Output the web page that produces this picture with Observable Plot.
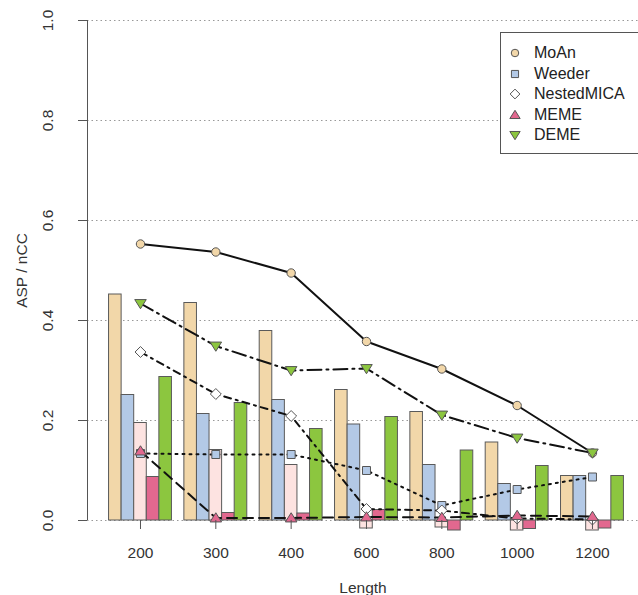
<!DOCTYPE html>
<html><head><meta charset="utf-8">
<script src="https://cdn.jsdelivr.net/npm/d3@7"></script>
<script src="https://cdn.jsdelivr.net/npm/@observablehq/plot@0.6"></script>
<style>
body{margin:0;background:#fff;font-family:"Liberation Sans",Arial,sans-serif;}
#wrap{position:relative;width:638px;height:595px;overflow:hidden;}
#legend{position:absolute;left:500px;top:32px;width:150px;height:122px;border:1px solid #555;background:#fff;box-sizing:border-box;}
#legend .row{position:absolute;left:0;height:20px;display:flex;align-items:center;font-size:16px;color:#222;}
#legend svg{margin-left:7px;margin-right:12px;}
</style></head><body><div id="wrap"></div>
<script>
// categories
const lengths = ["200", "300", "400", "600", "800", "1000", "1200"];
const methods = ["MoAn", "Weeder", "NestedMICA", "MEME", "DEME"];
// bar values (nCC)
const moanBar   = [0.452, 0.435, 0.379, 0.261, 0.217, 0.156, 0.089];
const weederBar = [0.251, 0.213, 0.241, 0.192, 0.111, 0.073, 0.089];
const nestedBar = [0.195, 0.141, 0.111, -0.016, -0.014, -0.020, -0.020];
const memeBar   = [0.087, 0.015, 0.014, 0.021, -0.020, -0.017, -0.016];
const demeBar   = [0.287, 0.235, 0.183, 0.207, 0.140, 0.109, 0.089];
// line values (ASP)
const moanLine   = [0.553, 0.537, 0.495, 0.358, 0.303, 0.230, 0.135];
const weederLine = [0.134, 0.132, 0.132, 0.100, 0.030, 0.062, 0.087];
const nestedLine = [0.337, 0.253, 0.209, 0.023, 0.020, 0.004, 0.002];
const memeLine   = [0.139, 0.005, 0.005, 0.007, 0.006, 0.010, 0.008];
const demeLine   = [0.434, 0.349, 0.300, 0.304, 0.211, 0.165, 0.135];
const yTicks = [0, 0.2, 0.4, 0.6, 0.8, 1.0];

const barSeries = [moanBar, weederBar, nestedBar, memeBar, demeBar];
const lineSeries = [moanLine, weederLine, nestedLine, memeLine, demeLine];
const barFill = ["#F2D7A9", "#B3C9E6", "#FDE3E1", "#E2688F", "#8CC63F"];
const markFill = ["#F2D7A9", "#B3C9E6", "#FFFFFF", "#E2688F", "#8CC63F"];
const dashes = [null, "2 5", "7 5 2 5", "10 6", "14 5 2 5"];

// custom symbols
const sym = {
  circle: {draw(c, s){const r=Math.sqrt(s/Math.PI); c.moveTo(r,0); c.arc(0,0,r,0,2*Math.PI);}},
  square: {draw(c, s){const r=Math.sqrt(s/Math.PI)*0.95; c.moveTo(-r,-r); c.lineTo(r,-r); c.lineTo(r,r); c.lineTo(-r,r); c.closePath();}},
  diamond: {draw(c, s){const r=Math.sqrt(s/Math.PI)*1.3; c.moveTo(0,-r); c.lineTo(r,0); c.lineTo(0,r); c.lineTo(-r,0); c.closePath();}},
  up: {draw(c, s){const r=Math.sqrt(s/Math.PI)*1.25; c.moveTo(0,-r); c.lineTo(r*1.1,r*0.75); c.lineTo(-r*1.1,r*0.75); c.closePath();}},
  down: {draw(c, s){const r=Math.sqrt(s/Math.PI)*1.25; c.moveTo(0,r); c.lineTo(r*1.1,-r*0.75); c.lineTo(-r*1.1,-r*0.75); c.closePath();}}
};
const symbols = [sym.circle, sym.square, sym.diamond, sym.up, sym.down];

const bw = 0.167;
const bars = [];
barSeries.forEach((arr, j) => arr.forEach((v, i) => bars.push({method: methods[j], j, i, x1: i + (j - 2.5) * bw, x2: i + (j - 1.5) * bw, v})));
const xDomain = [-0.7035, 6.611];

const marks = [
  Plot.gridY(yTicks, {stroke: "#999", strokeOpacity: 1, strokeDasharray: "1.5 3"}),
  Plot.rectY(bars, {x1: "x1", x2: "x2", y1: 0, y2: "v", fill: d => barFill[d.j], stroke: "#5a5a5a", strokeWidth: 1}),
];
lineSeries.forEach((arr, j) => {
  const pts = arr.map((v, i) => ({i, v}));
  marks.push(Plot.line(pts, {x: "i", y: "v", stroke: "#111", strokeWidth: 2, strokeDasharray: dashes[j]}));
});
lineSeries.forEach((arr, j) => {
  const pts = arr.map((v, i) => ({i, v}));
  marks.push(Plot.dot(pts, {x: "i", y: "v", symbol: symbols[j], r: 4.2, fill: markFill[j], stroke: "#555", strokeWidth: 1}));
});
marks.push(Plot.ruleX([xDomain[0]], {y1: 0, y2: 1, stroke: "#555", strokeWidth: 1}));
marks.push(Plot.axisY(yTicks, {tickFormat: d3.format(".1f"), tickRotate: -90, tickSize: 9, tickPadding: 26, label: "ASP / nCC", labelAnchor: "center", labelOffset: 72, labelArrow: "none", stroke: "#555", color: "#333"}));
marks.push(Plot.axisX(d3.range(lengths.length), {tickFormat: i => lengths[i], tickSize: 9, tickPadding: 17, label: "Length", labelAnchor: "center", labelOffset: 72, labelArrow: "none", stroke: "#555", color: "#333"}));

const chart = Plot.plot({
  width: 638, height: 595,
  marginLeft: 87, marginRight: 0, marginTop: 20, marginBottom: 75,
  style: {fontSize: "15.5px", fontFamily: "Liberation Sans, Arial, sans-serif", background: "#fff", color: "#333"},
  x: {type: "linear", domain: xDomain},
  y: {domain: [0, 1]},
  marks
});
const wrap = document.getElementById("wrap");
wrap.appendChild(chart);

// legend inside plot area
const legend = document.createElement("div");
legend.id = "legend";
methods.forEach((m, j) => {
  const row = document.createElement("div");
  row.className = "row";
  row.style.top = (10 + j * 20.5) + "px";
  const s = d3.create("svg").attr("width", 14).attr("height", 14);
  const p = d3.path();
  symbols[j].draw(p, Math.PI * 4.2 * 4.2 * 0.8);
  s.append("path").attr("d", p.toString()).attr("transform", "translate(7,7)").attr("fill", markFill[j]).attr("stroke", "#555");
  row.appendChild(s.node());
  row.appendChild(document.createTextNode(m));
  legend.appendChild(row);
});
wrap.appendChild(legend);
</script></body></html>
